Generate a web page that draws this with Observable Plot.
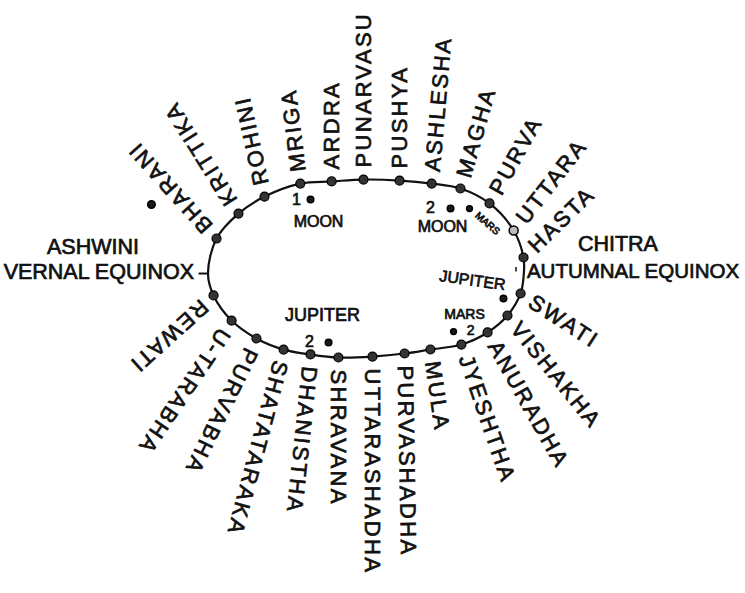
<!DOCTYPE html>
<html><head><meta charset="utf-8">
<script src="https://cdn.jsdelivr.net/npm/d3@7"></script>
<script src="https://cdn.jsdelivr.net/npm/@observablehq/plot@0.6"></script>
<style>
html,body{margin:0;padding:0;background:#fff;}
#chart svg{display:block;}
#chart svg text{stroke:#111;stroke-width:0.7px;}
</style></head><body><div id="chart"></div>
<script>
// ---- Data ----
const nakshatras = ["ASHWINI","BHARANI","KRITTIKA","ROHINI","MRIGA","ARDRA","PUNARVASU","PUSHYA","ASHLESHA","MAGHA","PURVA","UTTARA","HASTA","CHITRA","SWATI","VISHAKHA","ANURADHA","JYESHTHA","MULA","PURVASHADHA","UTTARASHADHA","SHRAVANA","DHANISTHA","SHATATARAKA","PURVABHA","U-TARABHA","REWATI"];
// polar position of each junction star on the ring (degrees, ring-radius units)
const nakAngle  = [182.6,159.8,142.1,128.1,113.3,102.4,90.9,78.0,66.7,56.7,43.5,25.1,7.7,-1.9,-15.4,-30.0,-42.6,-54.4,-65.6,-75.5,-87.6,-100.0,-110.2,-120.1,-131.8,-146.0,-163.2];
const nakRadius = [1.001,1.008,1.023,1.041,1.051,1.013,1.011,1.022,1.051,1.089,1.078,1.032,1.006,1.000,1.015,1.034,1.045,1.037,0.987,0.975,0.979,1.004,1.017,1.040,1.040,1.026,1.008];
// direction of each radial name (degrees on screen); equinox names are horizontal
const labelAngle = [null,-132,-122,-102.5,-97,-90,-90,-90,-85,-74,-61,-52,-44.5,null,33,51,60.5,71,82,89,90,90,96,105,116,124,138];
const equinoxNames  = ["ASHWINI","CHITRA"];
const equinoxLabels = ["VERNAL EQUINOX","AUTUMNAL EQUINOX"];
// planets (ring-radius units)
const planetNames  = ["MOON","MOON","MARS","JUPITER","MARS","JUPITER"];
const planetNumber = ["1","2","","","2","2"];
const planetX = [-0.351,0.535,0.655,0.870,0.554,-0.237];
const planetY = [0.787,0.685,0.685,-0.326,-0.697,-0.820];
// stray star beside Bharani
const extraStarX = [-1.358];
const extraStarY = [0.730];

// ---- Layout ----
const W = 745, H = 593, CX = 365.5, CY = 269, RX = 158, RY = 89;
const FONT = "'Liberation Sans', Arial, sans-serif";
const rad = d => d * Math.PI / 180;

const stars = nakshatras.map((name, i) => {
  const a = rad(nakAngle[i]);
  return {name, x: nakRadius[i] * Math.cos(a), y: nakRadius[i] * Math.sin(a), label: labelAngle[i]};
});
const ringStars = stars.filter(d => !equinoxNames.includes(d.name));
const GAP = 12;
const radial = stars.filter(d => d.label != null).map(d => ({
  text: d.name, rotate: d.label,
  x: d.x + GAP * Math.cos(rad(d.label)) / RX,
  y: d.y - GAP * Math.sin(rad(d.label)) / RY
}));
const eqPts = equinoxNames.map((n, i) => ({...stars.find(d => d.name === n), eq: equinoxLabels[i]}));
const vernal = eqPts[0], autumnal = eqPts[1];
const planets = planetNames.map((n, i) => ({name: n, num: planetNumber[i], x: planetX[i], y: planetY[i]}));
const extra = extraStarX.map((x, i) => ({x, y: extraStarY[i]}));

// label offsets (pixels) for each planet: [numDx,numDy,numSize], [nameDx,nameDy,nameSize,rotate]
const pl = [
  {num: [-14, 0, 16], name: [8, 22, 16, 0]},
  {num: [-20, -1, 16], name: [-8, 18, 16, 0]},
  {num: null, name: [18, 15, 10, 41]},
  {num: null, name: [-31, -18, 16, 8]},
  {num: [17, -1, 14], name: [11, -17, 14, 0]},
  {num: [-19, -1, 16], name: [-6, -27, 18, 0]}
];
const planetMarks = [];
planets.forEach((p, i) => {
  const L = pl[i];
  if (L.num) planetMarks.push(Plot.text([p], {x: "x", y: "y", text: "num", dx: L.num[0], dy: L.num[1], fontSize: L.num[2], fill: "#111"}));
  planetMarks.push(Plot.text([p], {x: "x", y: "y", text: "name", dx: L.name[0], dy: L.name[1], fontSize: L.name[2], rotate: L.name[3], fill: "#111"}));
});

const chart = Plot.plot({
  width: W, height: H,
  margin: 0,
  x: {domain: [-CX / RX, (W - CX) / RX], range: [0, W], axis: null},
  y: {domain: [(CY - H) / RY, CY / RY], range: [H, 0], axis: null},
  style: {fontFamily: FONT, background: "white", color: "#111"},
  marks: [
    Plot.line(stars, {x: "x", y: "y", curve: "catmull-rom-closed", stroke: "#111", strokeWidth: 2.2}),
    Plot.link([vernal], {x1: "x", y1: "y", x2: d => d.x - 0.06, y2: "y", stroke: "#111", strokeWidth: 2}),
    Plot.link([autumnal], {x1: d => d.x - 0.05, y1: d => d.y + 0.06, x2: d => d.x - 0.05, y2: d => d.y + 0.01, stroke: "#111", strokeWidth: 1.5}),
    Plot.dot(ringStars.filter(d => d.name !== "UTTARA"), {x: "x", y: "y", r: 4.5, fill: "#333", stroke: "#000", strokeWidth: 1.2}),
    Plot.dot(ringStars.filter(d => d.name === "UTTARA"), {x: "x", y: "y", r: 4.5, fill: "#bbb", stroke: "#000", strokeWidth: 1.5}),
    Plot.dot(planets, {x: "x", y: "y", r: d => d.name === "MARS" ? 3.6 : 4.6, fill: "#1a1a1a", stroke: "#000"}),
    Plot.dot(extra, {x: "x", y: "y", r: 3.8, fill: "#1a1a1a", stroke: "#000"}),
    Plot.text(radial, {x: "x", y: "y", text: "text", rotate: "rotate", textAnchor: "start", lineAnchor: "middle", fontSize: 22, fill: "#111", ariaDescription: "radial"}),
    Plot.text([vernal], {x: "x", y: "y", text: "name", dx: -115, dy: -26, fontSize: 21.5, fill: "#111"}),
    Plot.text([vernal], {x: "x", y: "y", text: "eq", dx: -14, dy: -1, textAnchor: "end", fontSize: 21.5, fill: "#111"}),
    Plot.text([autumnal], {x: "x", y: "y", text: "name", dx: 94, dy: -28, fontSize: 21.5, fill: "#111"}),
    Plot.text([autumnal], {x: "x", y: "y", text: "eq", dx: 3, dy: -1, textAnchor: "start", fontSize: 20.5, fill: "#111"}),
    ...planetMarks
  ]
});
d3.select(chart).selectAll("g[aria-description=radial] text").attr("letter-spacing", "2.3px");
document.getElementById("chart").appendChild(chart);
</script></body></html>
